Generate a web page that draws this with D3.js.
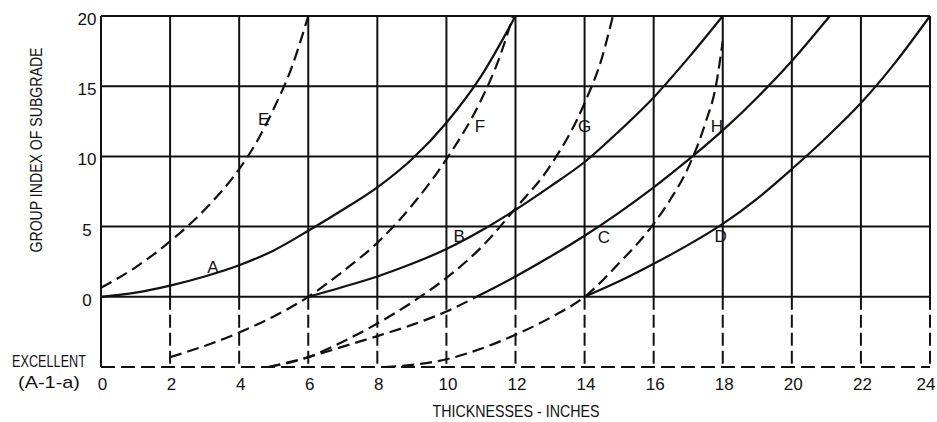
<!DOCTYPE html>
<html>
<head>
<meta charset="utf-8">
<script src="https://cdn.jsdelivr.net/npm/d3@7"></script>
<style>
  body { margin: 0; background: #fff; }
  svg text { font-family: "Liberation Sans", Arial, sans-serif; fill: #111; }
</style>
</head>
<body>
<svg id="chart" width="937" height="422"></svg>
<script>
// tick values
var xTicks = [0, 2, 4, 6, 8, 10, 12, 14, 16, 18, 20, 22, 24];
var yTicks = [0, 5, 10, 15, 20];

// solid curves
var curveA = [[0,0],[1,0.3],[2,0.8],[3,1.45],[4,2.25],[5,3.3],[6,4.7],[7,6.2],[8,7.8],[9,9.8],[10,12.4],[11,15.7],[12,20]];
var curveB = [[6,0],[7,0.7],[8,1.45],[9,2.35],[10,3.4],[11,4.7],[12,6.2],[13,7.85],[14,9.6],[15,11.8],[16,14.2],[17,17],[18,20]];
var curveC = [[10.87,0],[12,1.45],[13,2.85],[14,4.35],[15,6],[16,7.8],[17,9.75],[18,11.85],[19,14.2],[20,16.8],[21.1,20]];
var curveD = [[14,0],[15,1.1],[16,2.35],[17,3.7],[18,5.2],[19,7.0],[20,9.1],[21,11.35],[22,13.8],[23,16.7],[24,20]];
// dashed lower part of C
var curveCLow = [[4.85,-5],[6,-4.3],[7,-3.55],[8,-2.8],[9,-2.0],[10,-1.05],[10.87,0]];

// dashed curves
var curveE = [[0,0.64],[1,2.1],[2,3.95],[3,6.2],[4,9.1],[4.5,11],[5,13.4],[5.5,16.2],[6,20]];
var curveF = [[2,-4.3],[3,-3.5],[4,-2.55],[5,-1.4],[6,0],[7,1.8],[8,3.85],[9,6.5],[10,9.8],[11,14],[11.5,16.8],[11.93,20]];
var curveG = [[4.85,-5],[6,-4.3],[7,-3.2],[8,-1.9],[9,-0.4],[10,1.35],[11,3.5],[12,6.3],[13,9.3],[14,13.8],[14.5,17],[14.82,20]];
var curveH = [[8.2,-5],[9,-4.85],[10,-4.45],[11,-3.7],[12,-2.7],[13,-1.5],[14,0],[15,2.4],[16,5.2],[16.5,7.0],[17,9.2],[17.5,12.4],[17.8,15],[18,18.2]];

var curveNames = ["A", "B", "C", "D", "E", "F", "G", "H"];
var labelPos = [[3.24,2.1],[10.37,4.35],[14.56,4.3],[17.94,4.35],[4.71,12.65],[10.97,12.2],[14.0,12.2],[17.83,12.2]];

var solidCurves = [curveA, curveB, curveC, curveD];
var dashedCurves = [curveE, curveF, curveG, curveH, curveCLow];

var svg = d3.select("#chart");

var x = d3.scaleLinear().domain([0, 24]).range([101, 930]);
var y = d3.scaleLinear().domain([-5, 20]).range([367, 16]);

var grid = svg.append("g").attr("id", "grid")
    .attr("stroke", "#111").attr("stroke-width", 2).attr("fill", "none");

// upper grid: solid
grid.selectAll(".vline")
    .data(xTicks)
   .enter().append("line")
    .attr("class", "vline")
    .attr("x1", d => x(d)).attr("x2", d => x(d))
    .attr("y1", y(0)).attr("y2", y(20));

grid.selectAll(".hline")
    .data(yTicks)
   .enter().append("line")
    .attr("class", "hline")
    .attr("x1", x(0)).attr("x2", x(24))
    .attr("y1", d => y(d)).attr("y2", d => y(d));

// lower region: dashed verticals and bottom line, left edge solid
grid.selectAll(".vlow")
    .data(xTicks.slice(1))
   .enter().append("line")
    .attr("class", "vlow")
    .attr("stroke-dasharray", "13,5")
    .attr("x1", d => x(d)).attr("x2", d => x(d))
    .attr("y1", y(0)).attr("y2", y(-5));

grid.append("line")
    .attr("x1", x(0)).attr("x2", x(0))
    .attr("y1", y(0)).attr("y2", y(-5));

grid.append("line")
    .attr("stroke-dasharray", "14,6")
    .attr("x1", x(0)).attr("x2", x(24))
    .attr("y1", y(-5)).attr("y2", y(-5));

var line = d3.line()
    .x(d => x(d[0]))
    .y(d => y(d[1]))
    .curve(d3.curveMonotoneX);

var curves = svg.append("g").attr("id", "curves")
    .attr("fill", "none").attr("stroke", "#111").attr("stroke-width", 2.2);

curves.selectAll(".solid")
    .data(solidCurves)
   .enter().append("path")
    .attr("class", "solid")
    .attr("d", line);

curves.selectAll(".dashed")
    .data(dashedCurves)
   .enter().append("path")
    .attr("class", "dashed")
    .attr("stroke-dasharray", "12,6")
    .attr("d", line);

// curve letters
svg.append("g").selectAll(".clabel")
    .data(curveNames)
   .enter().append("text")
    .attr("class", "clabel")
    .attr("x", (d, i) => x(labelPos[i][0]))
    .attr("y", (d, i) => y(labelPos[i][1]))
    .attr("dy", "0.36em")
    .attr("text-anchor", "middle")
    .style("font-size", "17px")
    .text(d => d);

// tick labels (last one kept inside the window)
svg.append("g").selectAll(".xtick")
    .data(xTicks)
   .enter().append("text")
    .attr("class", "xtick")
    .attr("x", d => Math.min(x(d) + 1.5, 926))
    .attr("y", 390)
    .attr("text-anchor", "middle")
    .style("font-size", "17px")
    .text(d => d);

svg.append("g").selectAll(".ytick")
    .data(yTicks)
   .enter().append("text")
    .attr("class", "ytick")
    .attr("x", 87)
    .attr("y", d => y(d) + 9)
    .attr("text-anchor", "middle")
    .style("font-size", "17px")
    .text(d => d);

// axis titles
svg.append("text")
    .attr("x", 516).attr("y", 417)
    .attr("text-anchor", "middle")
    .attr("textLength", 167).attr("lengthAdjust", "spacingAndGlyphs")
    .style("font-size", "17px")
    .text("THICKNESSES - INCHES");

svg.append("text")
    .attr("transform", "translate(42,150) rotate(-90)")
    .attr("text-anchor", "middle")
    .attr("textLength", 205).attr("lengthAdjust", "spacingAndGlyphs")
    .style("font-size", "17px")
    .text("GROUP INDEX OF SUBGRADE");

svg.append("text")
    .attr("x", 49).attr("y", 367)
    .attr("text-anchor", "middle")
    .attr("textLength", 74).attr("lengthAdjust", "spacingAndGlyphs")
    .style("font-size", "17px")
    .text("EXCELLENT");

svg.append("text")
    .attr("x", 49).attr("y", 388)
    .attr("text-anchor", "middle")
    .attr("textLength", 62).attr("lengthAdjust", "spacingAndGlyphs")
    .style("font-size", "17px")
    .text("(A-1-a)");
</script>
</body>
</html>
